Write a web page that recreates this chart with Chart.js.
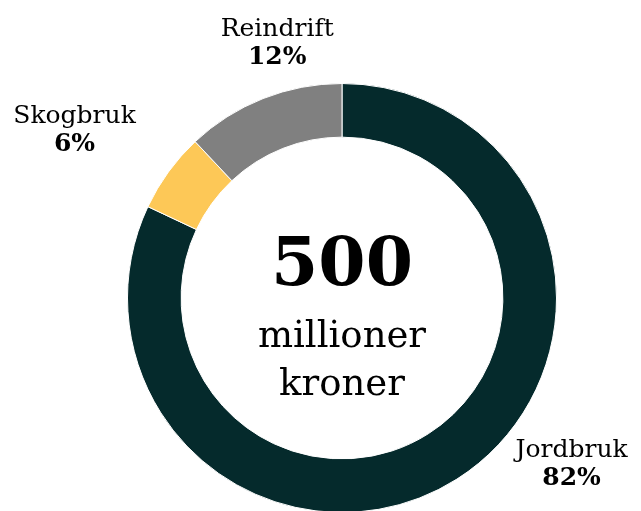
<!DOCTYPE html>
<html>
<head>
<meta charset="utf-8">
<script src="https://cdn.jsdelivr.net/npm/chart.js@4/dist/chart.umd.min.js"></script>
<style>
  html, body { margin: 0; padding: 0; background: #fff; overflow: hidden; }
  #wrap { width: 641px; height: 520px; }
</style>
</head>
<body>
<div id="wrap"><canvas id="donut" width="641" height="520"></canvas></div>
<script>
// Data
const kategorier = ['Jordbruk', 'Skogbruk', 'Reindrift'];
const andeler = [82, 6, 12];
const farger = ['#052a2c', '#fdc857', '#808080'];
const totalTekst = '500';
const enhetLinjer = ['millioner', 'kroner'];

// plassering av etiketter, relativt til sentrum i enheter av ytre radius
const etikettPos = [
    { dx: 1.070, dy: 0.740 },   // Jordbruk
    { dx: -1.247, dy: -0.814 }, // Skogbruk
    { dx: -0.302, dy: -1.223 }  // Reindrift
];

const serif = '"DejaVu Serif", "Liberation Serif", serif';

const tekstPlugin = {
    id: 'tekstPlugin',
    afterDraw(chart) {
        const ctx = chart.ctx;
        const arc = chart.getDatasetMeta(0).data[0];
        const cx = arc.x, cy = arc.y, r = arc.outerRadius;
        ctx.save();
        ctx.fillStyle = '#000';
        ctx.textAlign = 'center';
        ctx.textBaseline = 'alphabetic';

        // sentrumstekst
        ctx.font = 'bold 68px ' + serif;
        ctx.fillText(totalTekst, cx, cy - 13);
        ctx.font = '37px ' + serif;
        ctx.fillText(enhetLinjer[0], cx, cy + 49);
        ctx.fillText(enhetLinjer[1], cx, cy + 97);

        // etiketter
        kategorier.forEach((navn, i) => {
            const x = cx + etikettPos[i].dx * r;
            const y = cy + etikettPos[i].dy * r;
            ctx.font = '25px ' + serif;
            ctx.fillText(navn, x, y);
            ctx.font = 'bold 25px ' + serif;
            ctx.fillText(andeler[i] + '%', x, y + 28);
        });
        ctx.restore();
    }
};

const ctx = document.getElementById('donut').getContext('2d');
const donut = new Chart(ctx, {
    type: 'doughnut',
    data: {
        labels: kategorier,
        datasets: [{
            data: andeler,
            backgroundColor: farger,
            borderColor: '#ffffff',
            borderWidth: 1
        }]
    },
    options: {
        responsive: false,
        animation: false,
        cutout: '75%',
        layout: { padding: { top: 83, bottom: 7, left: 127, right: 84 } },
        plugins: {
            legend: { display: false },
            tooltip: { enabled: false }
        }
    },
    plugins: [tekstPlugin]
});
</script>
</body>
</html>
